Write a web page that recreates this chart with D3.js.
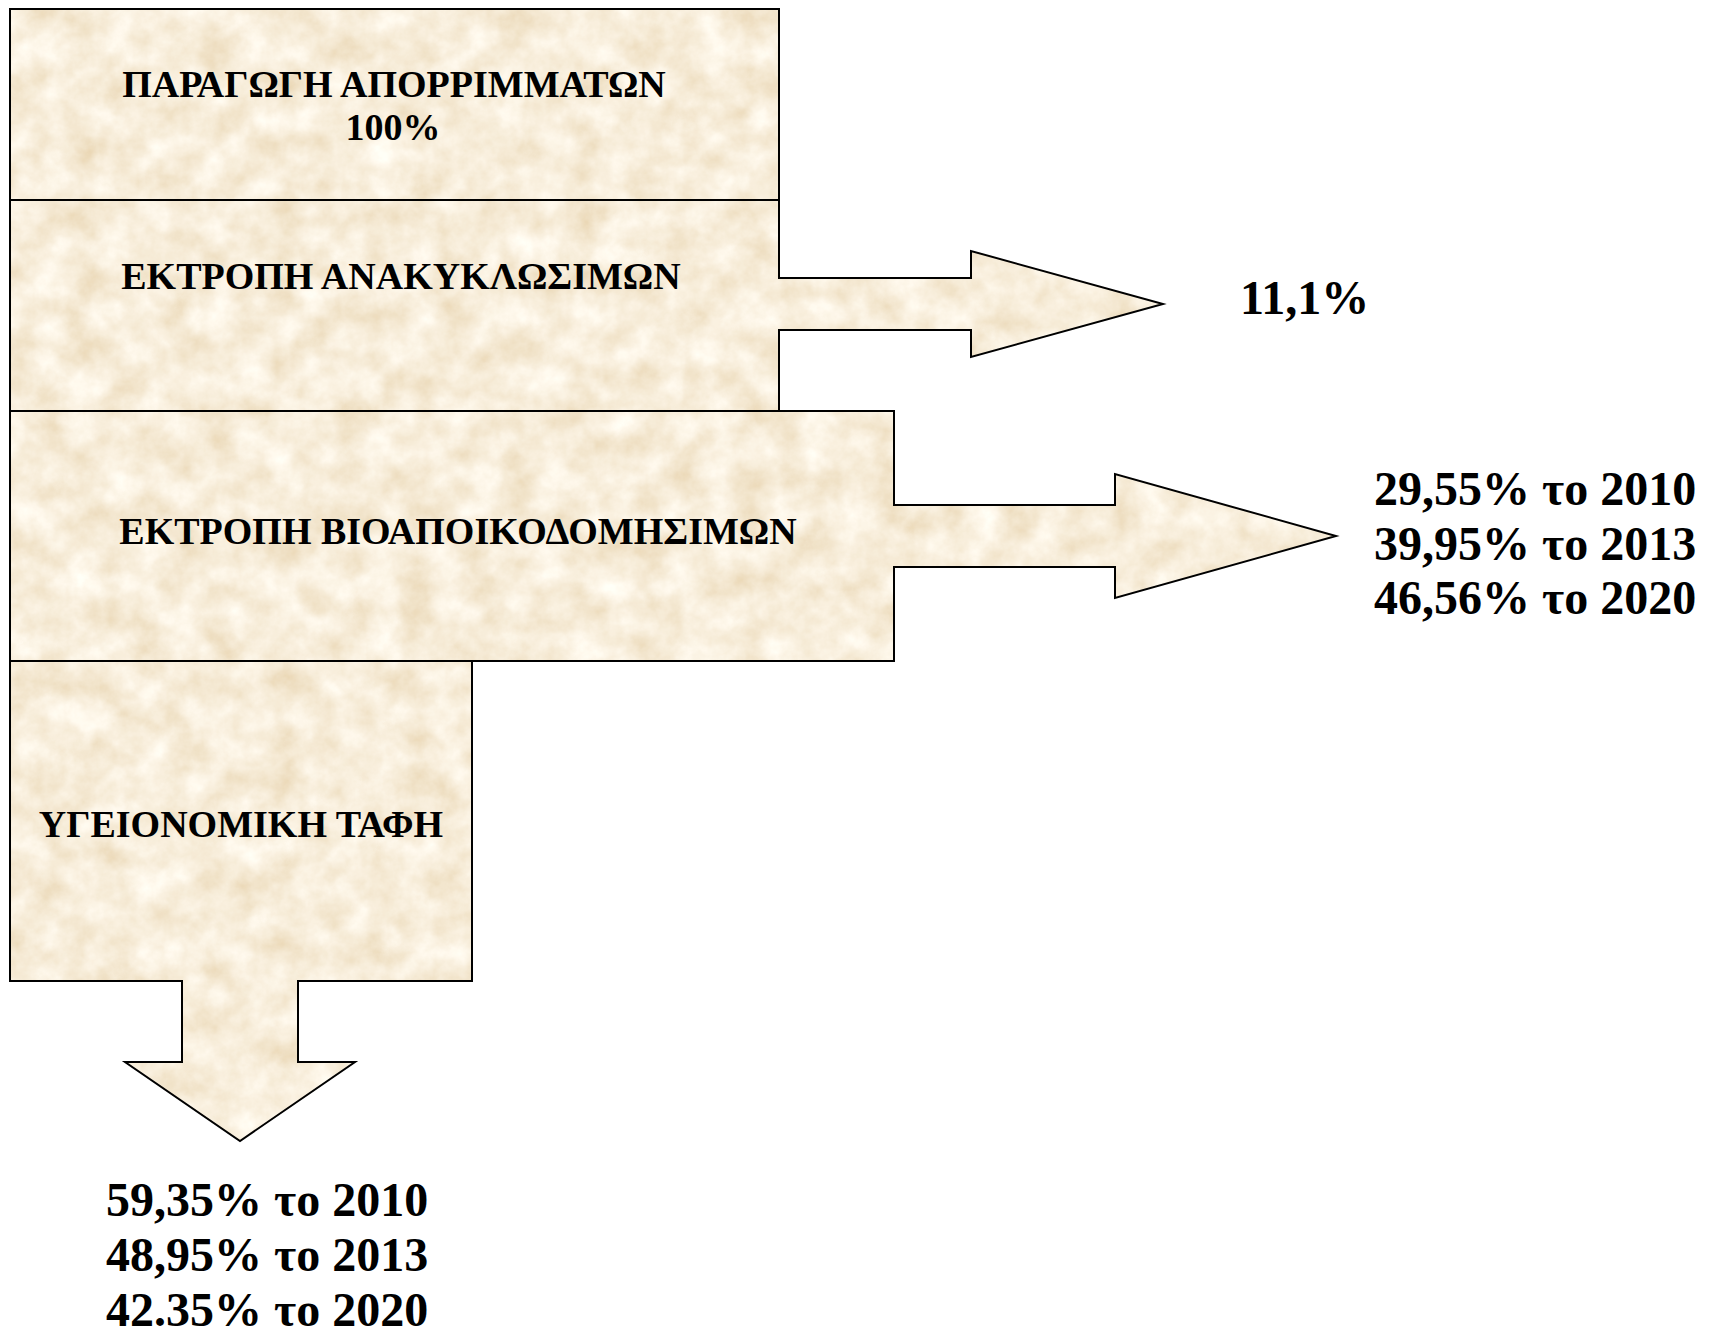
<!DOCTYPE html>
<html>
<head>
<meta charset="utf-8">
<script src="https://cdn.jsdelivr.net/npm/d3@7"></script>
<style>
  body { margin: 0; background: #fff; overflow: hidden; }
</style>
</head>
<body>
<script>
// data
const stages = ["ΠΑΡΑΓΩΓΗ ΑΠΟΡΡΙΜΜΑΤΩΝ", "ΕΚΤΡΟΠΗ ΑΝΑΚΥΚΛΩΣΙΜΩΝ", "ΕΚΤΡΟΠΗ ΒΙΟΑΠΟΙΚΟΔΟΜΗΣΙΜΩΝ", "ΥΓΕΙΟΝΟΜΙΚΗ ΤΑΦΗ"];
const years = ["2010", "2013", "2020"];
const totalShare = "100%";
const recyclingShare = ["11,1%"];
const bioShare = ["29,55%", "39,95%", "46,56%"];
const landfillShare = ["59,35%", "48,95%", "42.35%"];

const W = 1720, H = 1329;

let svg = d3.select("body").append("svg")
  .attr("width", W)
  .attr("height", H);

// parchment texture (one noise channel -> tan tints)
let defs = svg.append("defs");
let flt = defs.append("filter")
  .attr("id", "paper")
  .attr("filterUnits", "userSpaceOnUse")
  .attr("x", 0).attr("y", 0).attr("width", W).attr("height", H);
flt.append("feTurbulence")
  .attr("type", "fractalNoise")
  .attr("baseFrequency", 0.03)
  .attr("numOctaves", 5)
  .attr("seed", 11)
  .attr("result", "noise");
flt.append("feColorMatrix")
  .attr("in", "noise")
  .attr("type", "matrix")
  .attr("values", "0.25 0 0 0 0.81  0.38 0 0 0 0.66  0.55 0 0 0 0.43  0 0 0 0 1")
  .attr("result", "tint");
flt.append("feComposite")
  .attr("in", "tint")
  .attr("in2", "SourceGraphic")
  .attr("operator", "in");

// box column edges
let x = d3.scaleLinear().domain([0, 1]).range([10, 779]);
let rowY = [9, 200, 411, 661, 981];

// shapes: [box1], [box2 + right arrow], [box3 + right arrow], [box4 + down arrow]
function rightArrow(x0, x1, y0, y1, cy, shaftH, headX, headH, tipX) {
  return [
    [x0, y0], [x1, y0], [x1, cy - shaftH], [headX, cy - shaftH], [headX, cy - headH],
    [tipX, cy], [headX, cy + headH], [headX, cy + shaftH], [x1, cy + shaftH], [x1, y1], [x0, y1]
  ];
}
function downArrow(x0, x1, y0, y1, cx, shaftW, headY, headW, tipY) {
  return [
    [x0, y0], [x1, y0], [x1, y1], [cx + shaftW, y1], [cx + shaftW, headY], [cx + headW, headY],
    [cx, tipY], [cx - headW, headY], [cx - shaftW, headY], [cx - shaftW, y1], [x0, y1]
  ];
}

let shapes = [
  [[x(0), rowY[0]], [x(1), rowY[0]], [x(1), rowY[1]], [x(0), rowY[1]]],
  rightArrow(x(0), x(1), rowY[1], rowY[2], 304, 26, 971, 53, 1163),
  rightArrow(x(0), 894, rowY[2], rowY[3], 536, 31, 1115, 62, 1336),
  downArrow(x(0), 472, rowY[3], rowY[4], 240, 58, 1062, 115, 1141)
];

let line = d3.line();

svg.selectAll(".shape")
  .data(shapes)
  .enter()
    .append("path")
      .attr("class", "shape")
      .attr("d", d => line(d) + "Z")
      .attr("fill", "#e8d6b0")
      .attr("filter", "url(#paper)");

svg.selectAll(".outline")
  .data(shapes)
  .enter()
    .append("path")
      .attr("class", "outline")
      .attr("d", d => line(d) + "Z")
      .attr("fill", "none")
      .attr("stroke", "#000")
      .attr("stroke-width", 2)
      .attr("stroke-linejoin", "miter");

// labels inside boxes
let labelPos = [[394, 97], [401, 289], [458, 544], [241, 837]];

svg.selectAll(".stage")
  .data(stages)
  .enter()
    .append("text")
      .attr("class", "stage")
      .attr("x", (d, i) => labelPos[i][0])
      .attr("y", (d, i) => labelPos[i][1])
      .attr("text-anchor", "middle")
      .attr("font-family", "'Liberation Serif', 'Times New Roman', serif")
      .attr("font-weight", "bold")
      .attr("font-size", "38px")
      .attr("fill", "#000")
      .text(d => d);

svg.append("text")
  .attr("x", 393)
  .attr("y", 140)
  .attr("text-anchor", "middle")
  .attr("font-family", "'Liberation Serif', 'Times New Roman', serif")
  .attr("font-weight", "bold")
  .attr("font-size", "38px")
  .text(totalShare);

// outcome percentages
function valueBlock(values, withYears, x0, y0, step) {
  svg.append("g")
    .selectAll("text")
    .data(values)
    .enter()
      .append("text")
        .attr("x", x0)
        .attr("y", (d, i) => y0 + i * step)
        .attr("font-family", "'Liberation Serif', 'Times New Roman', serif")
        .attr("font-weight", "bold")
        .attr("font-size", "48px")
        .attr("fill", "#000")
        .text((d, i) => withYears ? d + " το " + years[i] : d);
}

valueBlock(recyclingShare, false, 1240, 314, 0);
valueBlock(bioShare, true, 1374, 505, 54.5);
valueBlock(landfillShare, true, 106, 1216, 55);
</script>
</body>
</html>
